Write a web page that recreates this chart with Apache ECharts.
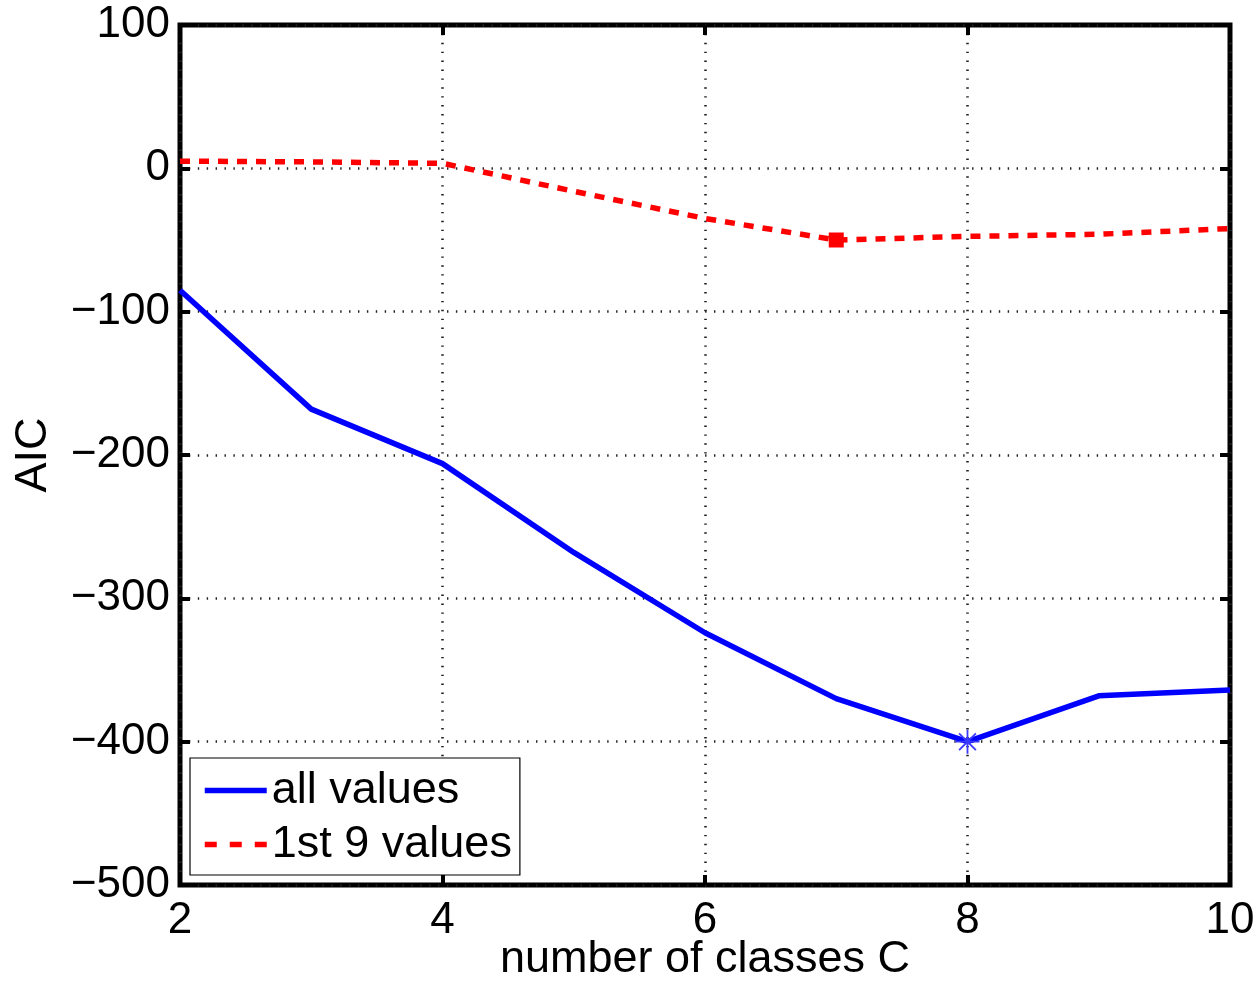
<!DOCTYPE html>
<html>
<head>
<meta charset="utf-8">
<title>AIC vs number of classes</title>
<script src="https://cdn.jsdelivr.net/npm/echarts@6/dist/echarts.min.js"></script>
<style>
  html, body { margin: 0; padding: 0; background: #fff; }
  #chart { width: 1260px; height: 982px; }
</style>
</head>
<body>
<div id="chart"></div>
<script>
// Number of classes C on the x axis
const classes = [2, 3, 4, 5, 6, 7, 8, 9, 10];
// AIC computed from all values
const aicAll = [-85, -168, -206, -268, -324, -370, -400, -368, -364];
// AIC computed from the first 9 values
const aicFirst9 = [5, 4.5, 3.5, -16, -35, -50, -47.5, -46, -42];

const seriesNames = ['all values', '1st 9 values'];
const xTicks = { min: 2, max: 10, interval: 2 };
const yTicks = { min: -500, max: 100, interval: 100 };

const FONT = 'Liberation Sans, Arial, Helvetica, sans-serif';
const ASTERISK = 'path://M0,-10L0,10M-10,0L10,0M-7,-7L7,7M-7,7L7,-7';

// index of the minimum of each curve gets a marker
function minIndex(arr) {
  let k = 0;
  arr.forEach((v, i) => { if (v < arr[k]) k = i; });
  return k;
}

function buildData(values, markerItem) {
  const k = minIndex(values);
  return values.map((v, i) => {
    const pt = [classes[i], v];
    return i === k ? Object.assign({ value: pt }, markerItem) : pt;
  });
}

const minus = v => String(v).replace('-', '\u2212');

const tickStyle = { show: true, inside: true, length: 10, lineStyle: { color: '#000', width: 4 } };
const gridDots = { show: true, lineStyle: { color: '#222', width: 2.6, type: [1.4, 7.5] } };
const noLine = { show: false, onZero: false };

const chart = echarts.init(document.getElementById('chart'), null, { renderer: 'canvas' });

chart.setOption({
  animation: false,
  backgroundColor: '#fff',
  textStyle: { fontFamily: FONT },
  grid: {
    left: 180, right: 30, top: 25, bottom: 97,
    outerBoundsMode: 'none', containLabel: false,
    show: true, borderColor: '#000', borderWidth: 5, backgroundColor: 'transparent'
  },
  xAxis: [
    {
      type: 'value', position: 'bottom',
      min: xTicks.min, max: xTicks.max, interval: xTicks.interval,
      name: 'number of classes C', nameLocation: 'middle', nameGap: 52,
      nameMoveOverlap: false,
      nameTextStyle: { fontSize: 45, color: '#000', fontFamily: FONT },
      axisLine: noLine,
      axisTick: tickStyle,
      axisLabel: { fontSize: 44, color: '#000', margin: 14, fontFamily: FONT },
      splitLine: gridDots
    },
    {
      type: 'value', position: 'top',
      min: xTicks.min, max: xTicks.max, interval: xTicks.interval,
      axisLine: noLine, axisTick: tickStyle,
      axisLabel: { show: false }, splitLine: { show: false }
    }
  ],
  yAxis: [
    {
      type: 'value', position: 'left',
      min: yTicks.min, max: yTicks.max, interval: yTicks.interval,
      name: 'AIC', nameLocation: 'middle', nameGap: 124, nameRotate: 90,
      nameMoveOverlap: false,
      nameTextStyle: { fontSize: 45, color: '#000', fontFamily: FONT },
      axisLine: noLine,
      axisTick: tickStyle,
      axisLabel: { fontSize: 44, color: '#000', margin: 10, fontFamily: FONT, formatter: minus },
      splitLine: gridDots
    },
    {
      type: 'value', position: 'right',
      min: yTicks.min, max: yTicks.max, interval: yTicks.interval,
      axisLine: noLine, axisTick: tickStyle,
      axisLabel: { show: false }, splitLine: { show: false }
    }
  ],
  legend: {
    orient: 'vertical',
    left: 190, top: 758,
    padding: [10, 8, 8, 12],
    itemGap: 9,
    itemWidth: 62, itemHeight: 14,
    backgroundColor: '#fff',
    borderColor: '#000', borderWidth: 1.2,
    itemStyle: { opacity: 0, borderWidth: 0 },
    textStyle: { fontSize: 45, color: '#000', fontFamily: FONT, padding: [0, 0, 0, 0] },
    data: [
      { name: seriesNames[0], lineStyle: { width: 5.5 } },
      { name: seriesNames[1], lineStyle: { width: 5.5, type: [12, 13] } }
    ]
  },
  series: [
    {
      name: seriesNames[0],
      type: 'line',
      xAxisIndex: 0, yAxisIndex: 0,
      symbol: 'none',
      z: 3,
      lineStyle: { color: '#0000ff', width: 5.5 },
      itemStyle: { color: '#0000ff' },
      data: buildData(aicAll, {
        symbol: ASTERISK, symbolSize: 24,
        itemStyle: { color: 'rgba(0,0,255,0)', borderColor: '#3a3aff', borderWidth: 1.8 }
      })
    },
    {
      name: seriesNames[1],
      type: 'line',
      xAxisIndex: 0, yAxisIndex: 0,
      symbol: 'none',
      z: 3,
      lineStyle: { color: '#ff0000', width: 5.5, type: [10, 9] },
      itemStyle: { color: '#ff0000' },
      data: buildData(aicFirst9, {
        symbol: 'rect', symbolSize: 15,
        itemStyle: { color: '#ff0000', borderWidth: 0 }
      })
    }
  ]
});
</script>
</body>
</html>
